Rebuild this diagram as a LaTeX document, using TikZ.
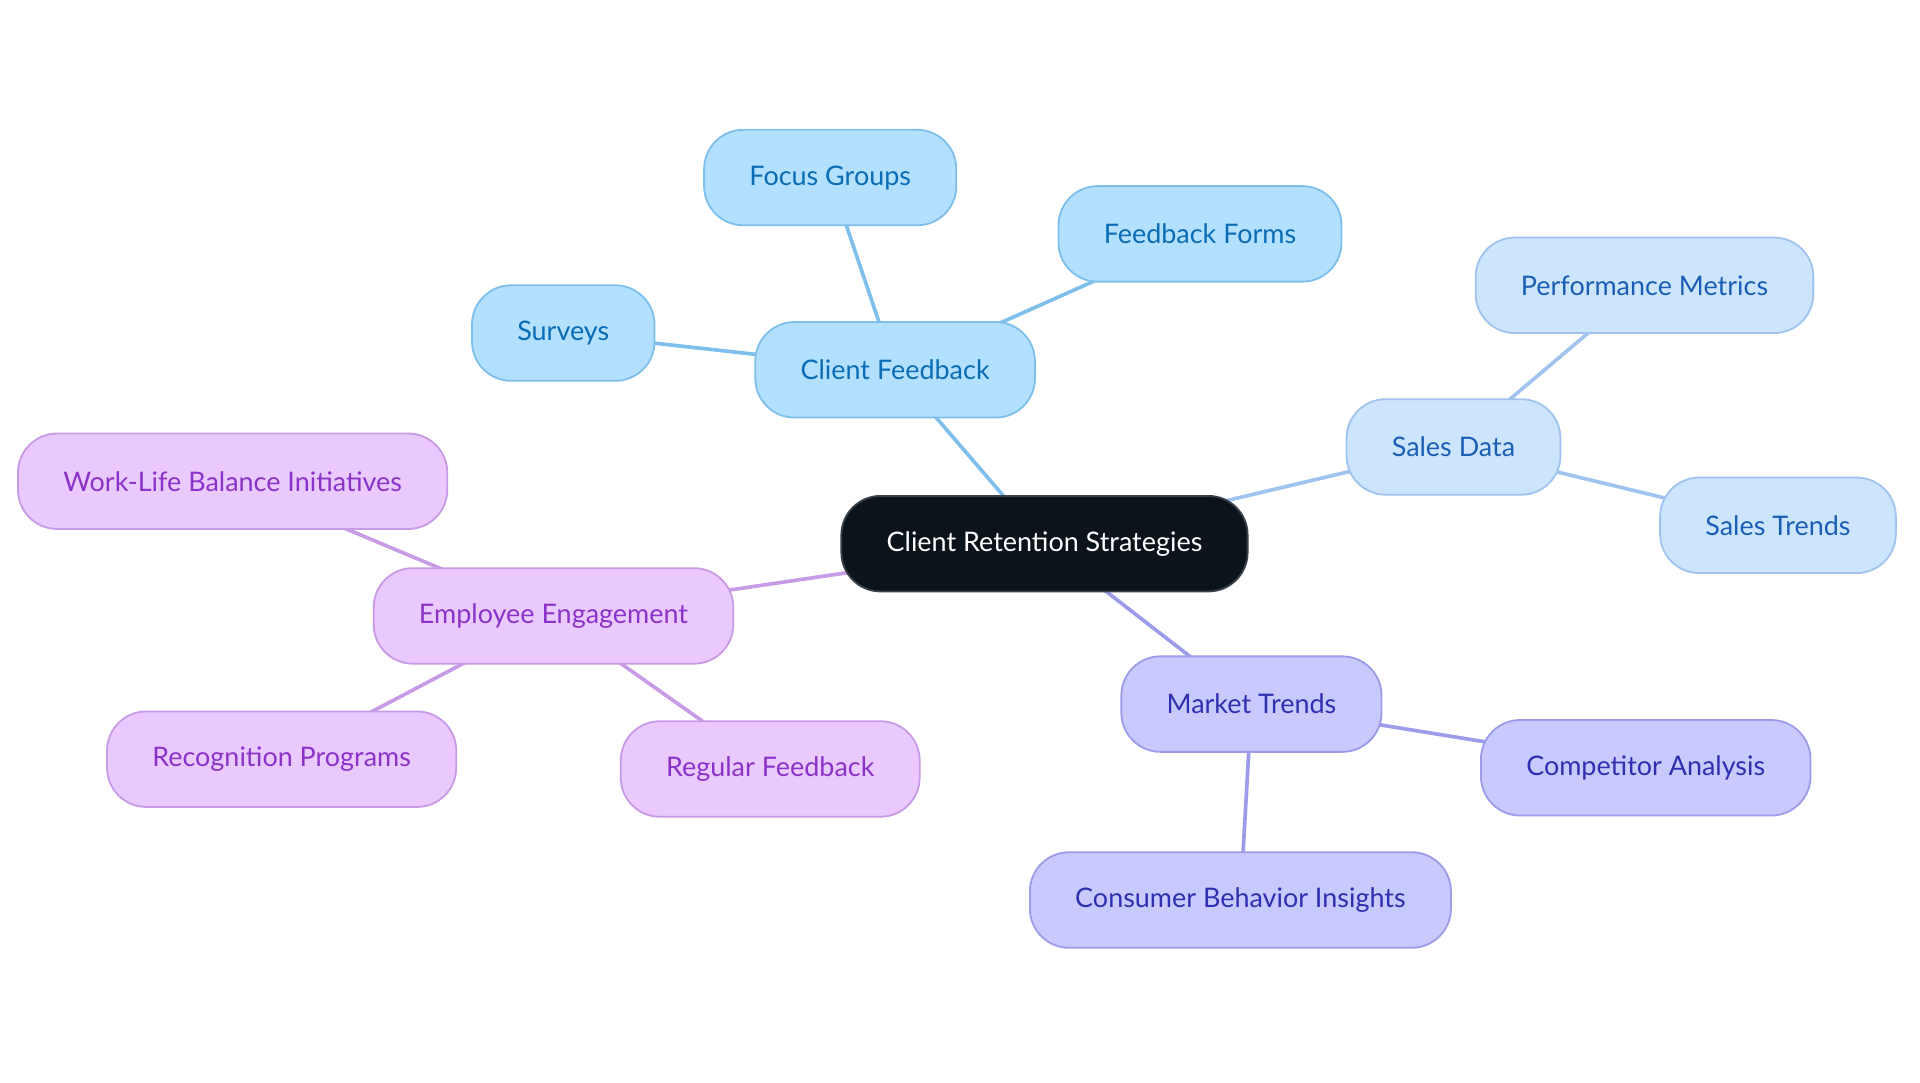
\documentclass[tikz,border=0pt]{standalone}
\usepackage{fontspec}
\setmainfont{Lato}
\usepackage{tikz}
\usetikzlibrary{positioning,backgrounds}

\definecolor{rootfill}{HTML}{0B131B}
\definecolor{rootline}{HTML}{3B4148}
\definecolor{cffill}{HTML}{B3E0FE}
\definecolor{cfline}{HTML}{7EC0EB}
\definecolor{cftext}{HTML}{0A6CB4}
\definecolor{sdfill}{HTML}{CDE4FD}
\definecolor{sdline}{HTML}{A0C4EE}
\definecolor{sdtext}{HTML}{1B5FB5}
\definecolor{mtfill}{HTML}{C8CAFE}
\definecolor{mtline}{HTML}{9C9CEA}
\definecolor{mttext}{HTML}{2F2FB0}
\definecolor{eefill}{HTML}{EAC9FE}
\definecolor{eeline}{HTML}{C89BE6}
\definecolor{eetext}{HTML}{8B33C8}

\begin{document}
\begin{tikzpicture}[x=0.5pt,y=-0.5pt,
  box/.style={rounded corners=16pt,minimum height=39pt,inner xsep=18.5pt,
    line width=0.75pt,font=\fontsize{11}{13}\selectfont},
  root/.style={box,fill=rootfill,draw=rootline,text=white},
  cf/.style={box,fill=cffill,draw=cfline,text=cftext},
  sd/.style={box,fill=sdfill,draw=sdline,text=sdtext},
  mt/.style={box,fill=mtfill,draw=mtline,text=mttext},
  ee/.style={box,fill=eefill,draw=eeline,text=eetext},
  link/.style={line width=1.5pt}]
\useasboundingbox (0,0) rectangle (1568,884.4);
% nodes
\node[root] (crs) at (853,444) {Client Retention Strategies};
\node[cf] (cfb) at (731,302) {Client Feedback};
\node[cf] (fg) at (678,145) {Focus Groups};
\node[cf] (ff) at (980,191) {Feedback Forms};
\node[cf] (sv) at (460,272) {Surveys};
\node[sd] (sd) at (1187,365) {Sales Data};
\node[sd] (pm) at (1343,233) {Performance Metrics};
\node[sd] (st) at (1452,429) {Sales Trends};
\node[mt] (mt) at (1022,575) {Market Trends};
\node[mt] (ca) at (1344,627) {Competitor Analysis};
\node[mt] (cbi) at (1013,735) {Consumer Behavior Insights};
\node[ee] (ee) at (452,503) {Employee Engagement};
\node[ee] (wlb) at (190,393) {Work-Life Balance Initiatives};
\node[ee] (rp) at (230,620) {Recognition Programs};
\node[ee] (rf) at (629,628) {Regular Feedback};
% links, behind the boxes
\begin{scope}[on background layer]
\draw[link,cfline] (crs.center) -- (cfb.center) (cfb.center) -- (fg.center)
  (cfb.center) -- (ff.center) (cfb.center) -- (sv.center);
\draw[link,sdline] (crs.center) -- (sd.center) (sd.center) -- (pm.center)
  (sd.center) -- (st.center);
\draw[link,mtline] (crs.center) -- (mt.center) (mt.center) -- (ca.center)
  (mt.center) -- (cbi.center);
\draw[link,eeline] (crs.center) -- (ee.center) (ee.center) -- (wlb.center)
  (ee.center) -- (rp.center) (ee.center) -- (rf.center);
\end{scope}
\end{tikzpicture}
\end{document}
